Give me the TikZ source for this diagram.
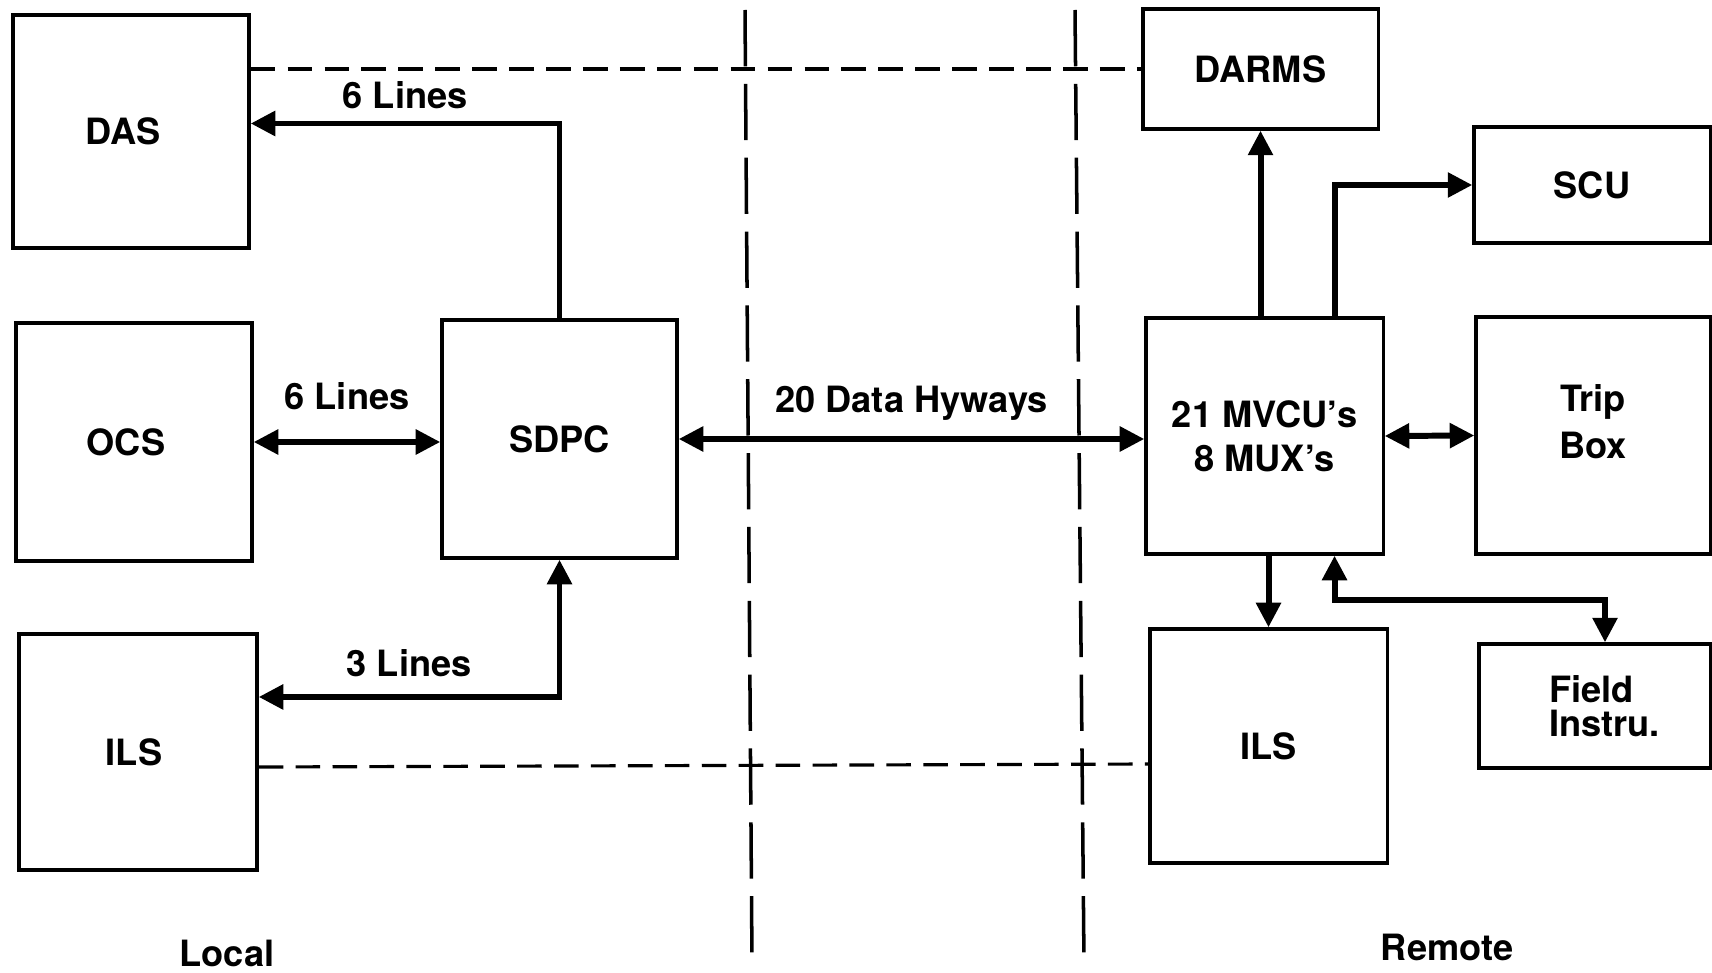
\documentclass[tikz,border=0pt]{standalone}
\usepackage{fontspec}
\setmainfont{TeX Gyre Heros}
\usetikzlibrary{arrows.meta}

\begin{document}
\begin{tikzpicture}[
        x=0.01cm, y=-0.01cm,
        block/.style={draw, line width=0.9pt, inner sep=0pt, align=center,
            font=\fontsize{10.3}{12.5}\selectfont\bfseries},
        lbl/.style={font=\fontsize{10.3}{12.5}\selectfont\bfseries},
        link/.style={line width=1.7pt},
        dashline/.style={line width=0.9pt, dash pattern=on 7pt off 3.5pt},
        divider/.style={line width=1pt, dash pattern=on 16pt off 5pt},
        >={Triangle[length=7pt, width=6.8pt]}
    ]
        \useasboundingbox (0,0) rectangle (1712,973);

        \node[block, minimum width=2.36cm, minimum height=2.33cm] (das) at (131,131.5) {DAS\hspace*{0.16cm}};
        \node[block, minimum width=2.36cm, minimum height=2.38cm] (ocs) at (134,442) {OCS\hspace*{0.16cm}};
        \node[block, minimum width=2.38cm, minimum height=2.36cm] (ilsl) at (138,752) {ILS\hspace*{0.08cm}};
        \node[block, minimum width=2.35cm, minimum height=2.38cm] (sdpc) at (559.5,439) {SDPC};

        \node[block, minimum width=2.35cm, minimum height=1.20cm] (darms) at (1260.5,69) {DARMS};
        \node[block, minimum width=2.36cm, minimum height=1.16cm] (scu) at (1592,185) {SCU};
        \node[block, minimum width=2.37cm, minimum height=2.36cm] (mvcu) at (1264.5,436) {21 MVCU's\\8 MUX's};
        \node[block, minimum width=2.34cm, minimum height=2.37cm] (trip) at (1593,435.5) {Trip\\[1pt]Box\\[-0.16cm]\mbox{}};
        \node[block, minimum width=2.37cm, minimum height=2.34cm] (ilsr) at (1268.5,746) {ILS};
        \node[block, minimum width=2.31cm, minimum height=1.24cm, align=left] (field) at (1594.5,706)
            {\hspace*{0.2cm}Field\\[-3pt]\hspace*{0.2cm}Instru.};

        \node[lbl] (local) at (227,953) {Local};
        \node[lbl] (remote) at (1447,947) {Remote};

        \coordinate (fbend) at (1605,600);

        % local side
        \draw[link, ->] (sdpc.north) |- node[lbl, pos=0.75, above=0pt] {6 Lines} ([yshift=0.08cm]das.east);
        \draw[link, <->] (ocs.east) -- node[lbl, above=0.17cm] {6 Lines} (ocs.east -| sdpc.west);
        \draw[link, <->] (sdpc.south) |- node[lbl, pos=0.75, above=0.05cm] {3 Lines} ([yshift=0.55cm]ilsl.east);

        \draw[link, <->] (sdpc.east) -- node[lbl, above=0.04cm] {20 Data Hyways} (sdpc.east -| mvcu.west);

        % remote side
        \draw[link, ->] (mvcu.north -| darms.south) -- (darms.south);
        \draw[link, ->] ([xshift=0.7cm]mvcu.north) |- (scu.west);
        \draw[link, <->] (mvcu.east) -- (trip.west);
        \draw[link, ->] (mvcu.south -| ilsr.north) -- (ilsr.north);
        \draw[link, <->] ([xshift=0.7cm]mvcu.south) |- (fbend) -- (fbend |- field.north);

        \draw[dashline] (das.east |- darms.west) -- (darms.west);
        \draw[dashline] ([yshift=-0.15cm]ilsl.east) -- ([yshift=-0.18cm]ilsr.west);

        \draw[divider] (745,10) -- (752,963);
        \draw[divider] (1075,10) -- (1084,963);
    \end{tikzpicture}
\end{document}
